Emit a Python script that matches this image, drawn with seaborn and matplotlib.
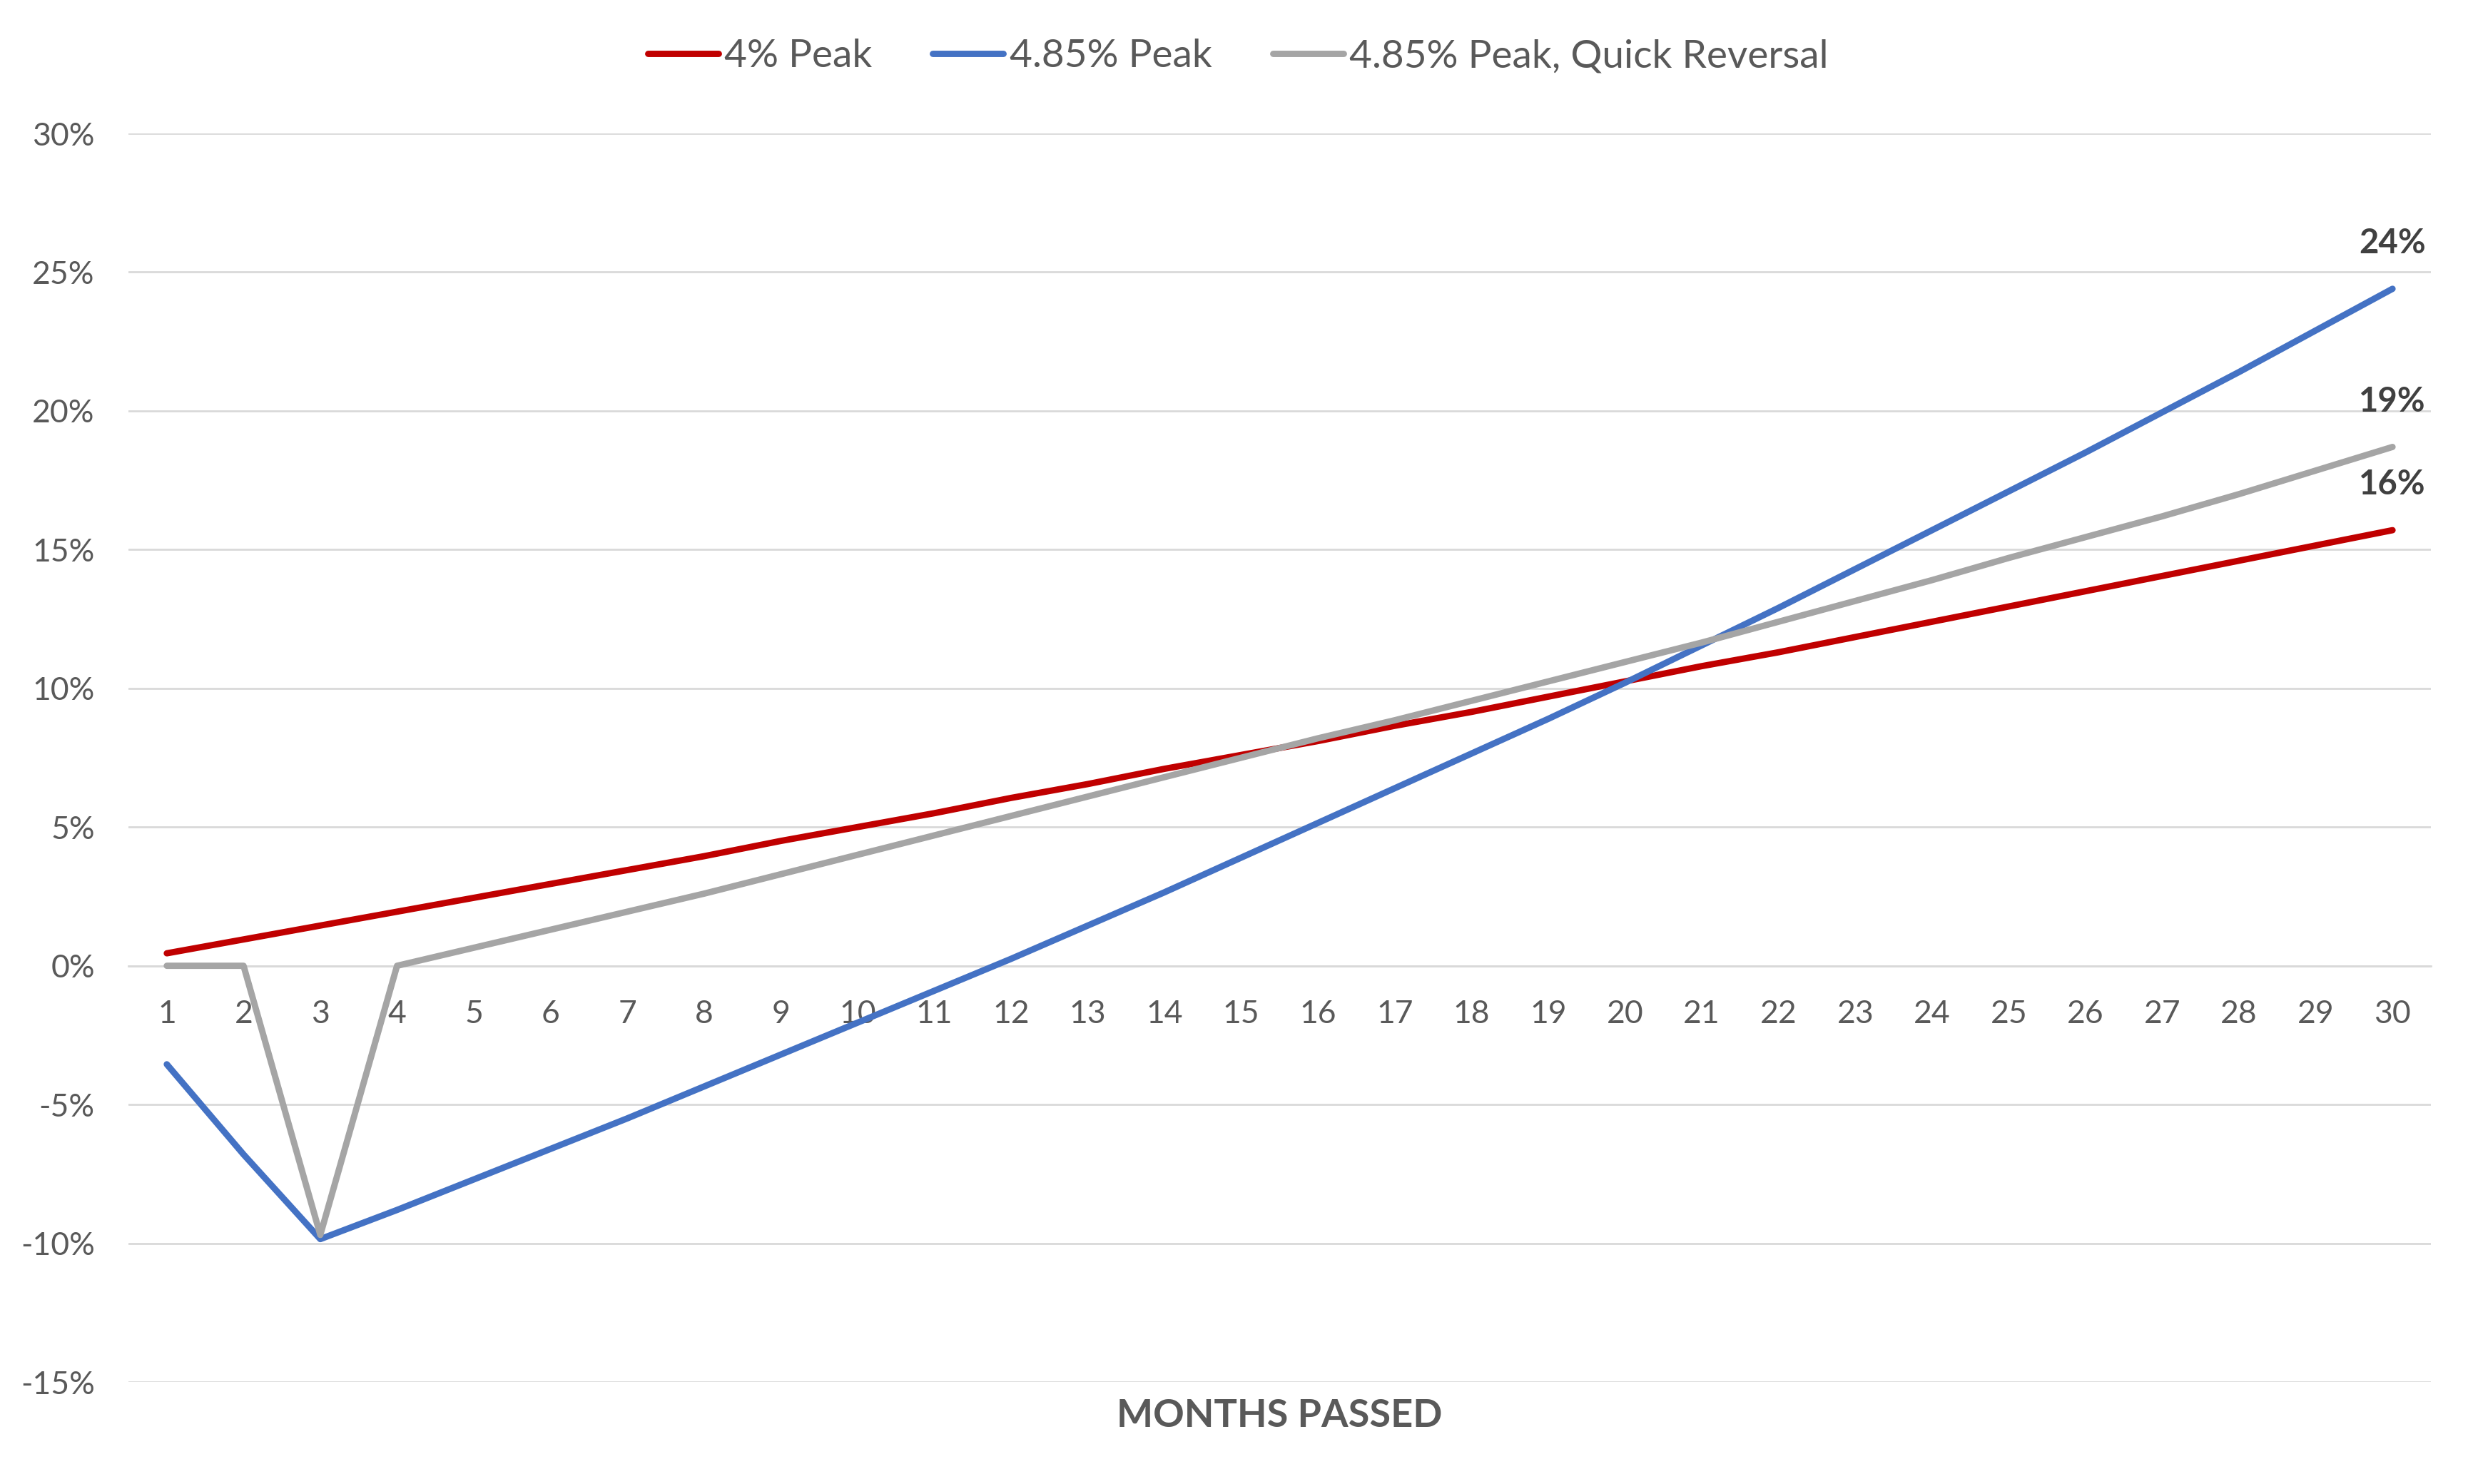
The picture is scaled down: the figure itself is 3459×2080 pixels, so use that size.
import seaborn as sns
import pandas as pd
import matplotlib.pyplot as plt

# Values (cumulative return, %)
months = list(range(1, 31))
peak_4 = [0.45, 0.95, 1.45, 1.95, 2.45, 2.95, 3.45, 3.95, 4.5, 5.0,
          5.5, 6.05, 6.55, 7.1, 7.6, 8.1, 8.65, 9.15, 9.7, 10.25,
          10.8, 11.3, 11.85, 12.4, 12.95, 13.5, 14.05, 14.6, 15.15, 15.7]
peak_485 = [-3.55, -6.8, -9.85, -8.8, -7.7, -6.6, -5.5, -4.35, -3.2, -2.05,
            -0.9, 0.25, 1.45, 2.65, 3.9, 5.15, 6.4, 7.65, 8.9, 10.2,
            11.55, 12.9, 14.3, 15.7, 17.1, 18.5, 19.95, 21.4, 22.9, 24.4]
peak_485_quick = [0.0, 0.0, -9.7, 0.0, 0.65, 1.3, 1.95, 2.6, 3.3, 4.0,
                  4.7, 5.4, 6.1, 6.8, 7.5, 8.2, 8.85, 9.55, 10.25, 10.95,
                  11.65, 12.4, 13.15, 13.9, 14.7, 15.45, 16.2, 17.0, 17.85, 18.7]
series_names = ["4% Peak", "4.85% Peak", "4.85% Peak, Quick Reversal"]
colors = ["#C00000", "#4472C4", "#A5A5A5"]
y_ticks = [-15, -10, -5, 0, 5, 10, 15, 20, 25, 30]

df = pd.concat([
    pd.DataFrame({"month": months, "value": vals, "series": name})
    for name, vals in zip(series_names, [peak_4, peak_485, peak_485_quick])
])

sns.set_theme(style="white")
plt.rcParams["font.family"] = ["Lato", "DejaVu Sans"]
text_col = "#595959"
grid_col = "#D9D9D9"
lw = 3.2

fig = plt.figure(figsize=(3459 / 200, 2080 / 200), dpi=200)
ax = fig.add_axes([180 / 3459, 1 - 1937 / 2080, 3227 / 3459, 1750 / 2080])

sns.lineplot(data=df, x="month", y="value", hue="series", hue_order=series_names,
             palette=colors, linewidth=lw, sort=False, ax=ax, legend=False)
for line in ax.lines:
    line.set_solid_capstyle("round")
    line.set_solid_joinstyle("round")

ax.set_xlim(0.5, 30.5)
ax.set_ylim(-15, 30)
ax.set_yticks(y_ticks)
ax.set_yticklabels([f"{v}%" for v in y_ticks])
ax.set_xticks(months)
ax.set_xticklabels([str(m) for m in months])
ax.grid(axis="y", color=grid_col, linewidth=1.0)
ax.grid(axis="x", visible=False)
ax.set_axisbelow(True)
for s in ["top", "right", "left"]:
    ax.spines[s].set_visible(False)
ax.spines["bottom"].set_position(("data", 0))
ax.spines["bottom"].set_color(grid_col)
ax.spines["bottom"].set_linewidth(1.0)
ax.spines["bottom"].set_zorder(0.5)
ax.tick_params(axis="x", length=0, pad=17, labelsize=16, labelcolor=text_col)
ax.tick_params(axis="y", length=0, pad=17, labelsize=16, labelcolor=text_col)
ax.set_xlabel("")
ax.set_ylabel("")

# end-of-line value labels
for name, vals in zip(series_names, [peak_4, peak_485, peak_485_quick]):
    ax.annotate(f"{round(vals[-1])}%", xy=(months[-1], vals[-1]), xytext=(0, 23),
                textcoords="offset points", ha="center", va="center",
                fontsize=17, fontweight="bold", color="#404040")

fig.text(1793 / 3459, 1 - 1985 / 2080, "MONTHS PASSED", ha="center", va="center",
         fontsize=19.5, fontweight="bold", color=text_col)

handles = [plt.Line2D([], [], color=c, linewidth=lw, solid_capstyle="round") for c in colors]
fig.legend(handles, series_names, loc="center", bbox_to_anchor=(0.5016, 1 - 79 / 2080),
           ncol=3, frameon=False, fontsize=19.8, labelcolor=text_col,
           handlelength=1.8, handletextpad=0.15, columnspacing=1.55)

fig.savefig("out.png", dpi=200)
